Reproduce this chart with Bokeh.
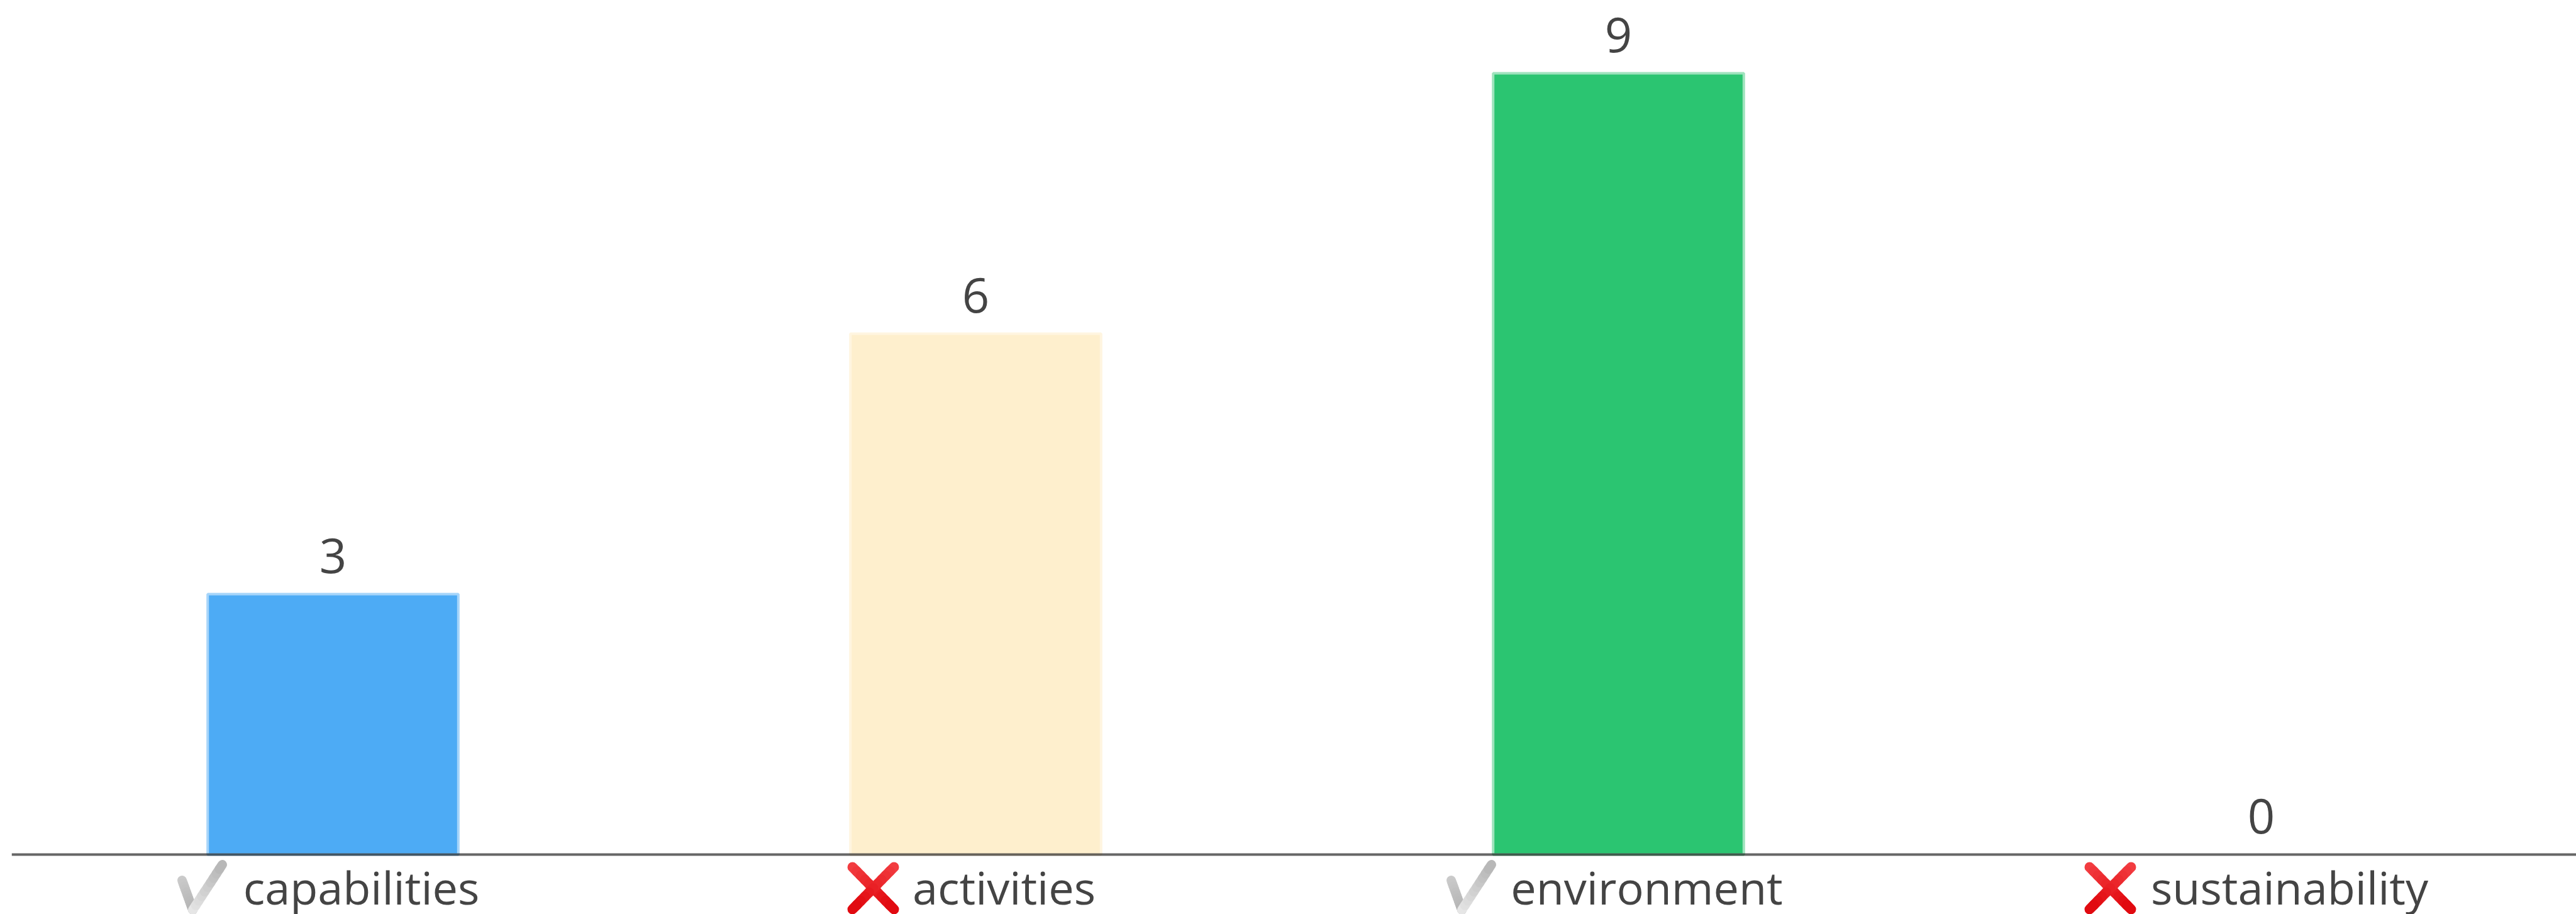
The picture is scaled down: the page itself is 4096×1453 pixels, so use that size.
from bokeh.embed import file_html
from bokeh.models import ColumnDataSource, Range1d, LinearAxis, FixedTicker
from bokeh.plotting import figure
from bokeh.core.properties import value
from bokeh.resources import INLINE

categories = ["capabilities", "activities", "environment", "sustainability"]
counts = [3, 6, 9, 0]
passed = [True, False, True, False]
bar_colors = ["#4dabf5", "#feefcd", "#2bc571", "#ffffff"]
edge_colors = ["#a6d5fa", "#fff5e0", "#9fe3bd", "#ffffff"]

# Layout of the page, in screen pixels
WIDTH, HEIGHT = 4096, 1453
LEFT = 18
BASELINE = 1358
BAND = 1022
UNIT = 138.0
LABEL_FONT = "Open Sans"
LABEL_PX = 72
VALUE_PX = 76
icon_shift = [0, -163, -26, -240]

x_end = (WIDTH - LEFT) / BAND - 0.5
y_start = -(HEIGHT - BASELINE) / UNIT
y_end = BASELINE / UNIT

p = figure(width=WIDTH, height=HEIGHT, output_backend="svg", toolbar_location=None,
           x_range=Range1d(-0.5, x_end), y_range=Range1d(y_start, y_end),
           x_axis_location=None, y_axis_location=None,
           min_border_left=LEFT, min_border_right=0, min_border_top=0, min_border_bottom=0,
           background_fill_color="white", border_fill_color="white", outline_line_color=None)
p.grid.visible = False

positions = list(range(len(categories)))
src = ColumnDataSource(dict(x=positions, top=counts, label=[str(c) for c in counts],
                            fill=bar_colors, edge=edge_colors))

p.vbar(x="x", top="top", bottom=0, width=0.39, source=src,
       fill_color="fill", line_color="edge", line_width=4)

p.text(x="x", y="top", text="label", source=src, text_font=value(LABEL_FONT),
       text_font_size=f"{VALUE_PX}px", text_color="#444444",
       text_align="center", text_baseline="alphabetic", y_offset=-62)


def lerp(a, b, t):
    return a + (b - a) * t


def shade(top, bottom, t):
    return "#" + "".join(f"{round(lerp(u, v, t)):02x}" for u, v in zip(top, bottom))


def add_stroke(store, bar, shift, start, end, top_rgb, bottom_rgb, pieces=10):
    """Append one pen stroke, split into short pieces so it can shade from top to bottom."""
    for k in range(pieces):
        t0, t1 = k / pieces, (k + 1) / pieces
        px0, py0 = lerp(start[0], end[0], t0), lerp(start[1], end[1], t0)
        px1, py1 = lerp(start[0], end[0], t1), lerp(start[1], end[1], t1)
        store["x0"].append(bar + (px0 + shift) / BAND)
        store["y0"].append((BASELINE - py0) / UNIT)
        store["x1"].append(bar + (px1 + shift) / BAND)
        store["y1"].append((BASELINE - py1) / UNIT)
        mid = ((py0 + py1) / 2 - 1374) / 72
        store["color"].append(shade(top_rgb, bottom_rgb, min(max(mid, 0), 1)))


ticks = {"x0": [], "y0": [], "x1": [], "y1": [], "color": []}
crosses = {"x0": [], "y0": [], "x1": [], "y1": [], "color": []}
GREY_TOP, GREY_BOTTOM = (232, 232, 232), (182, 182, 182)
RED_TOP, RED_BOTTOM = (244, 66, 70), (224, 6, 12)

for bar, ok, shift in zip(positions, passed, icon_shift):
    if ok:
        add_stroke(ticks, bar, shift, (-240, 1399), (-223, 1446), (214, 214, 214), GREY_BOTTOM)
        add_stroke(ticks, bar, shift, (-223, 1446), (-176, 1374), GREY_BOTTOM, GREY_TOP)
    else:
        add_stroke(crosses, bar, shift, (-33, 1378), (33, 1445), RED_TOP, RED_BOTTOM)
        add_stroke(crosses, bar, shift, (33, 1378), (-33, 1445), RED_TOP, RED_BOTTOM)

p.segment("x0", "y0", "x1", "y1", source=ColumnDataSource(ticks), line_color="color",
          line_width=15, line_cap="round")
p.segment("x0", "y0", "x1", "y1", source=ColumnDataSource(crosses), line_color="color",
          line_width=16, line_cap="round")

axis = LinearAxis(fixed_location=0, ticker=FixedTicker(ticks=positions),
                  major_label_overrides={i: "\u2003\u2005" + c for i, c in enumerate(categories)},
                  major_label_text_font=LABEL_FONT,
                  major_label_text_font_size=f"{LABEL_PX}px",
                  major_label_text_color="#444444",
                  major_label_standoff=-4,
                  major_tick_line_color=None, minor_tick_line_color=None,
                  axis_line_color="black", axis_line_alpha=0.6, axis_line_width=4)
p.add_layout(axis, "below")

open("out.html", "w").write(file_html(p, INLINE))
